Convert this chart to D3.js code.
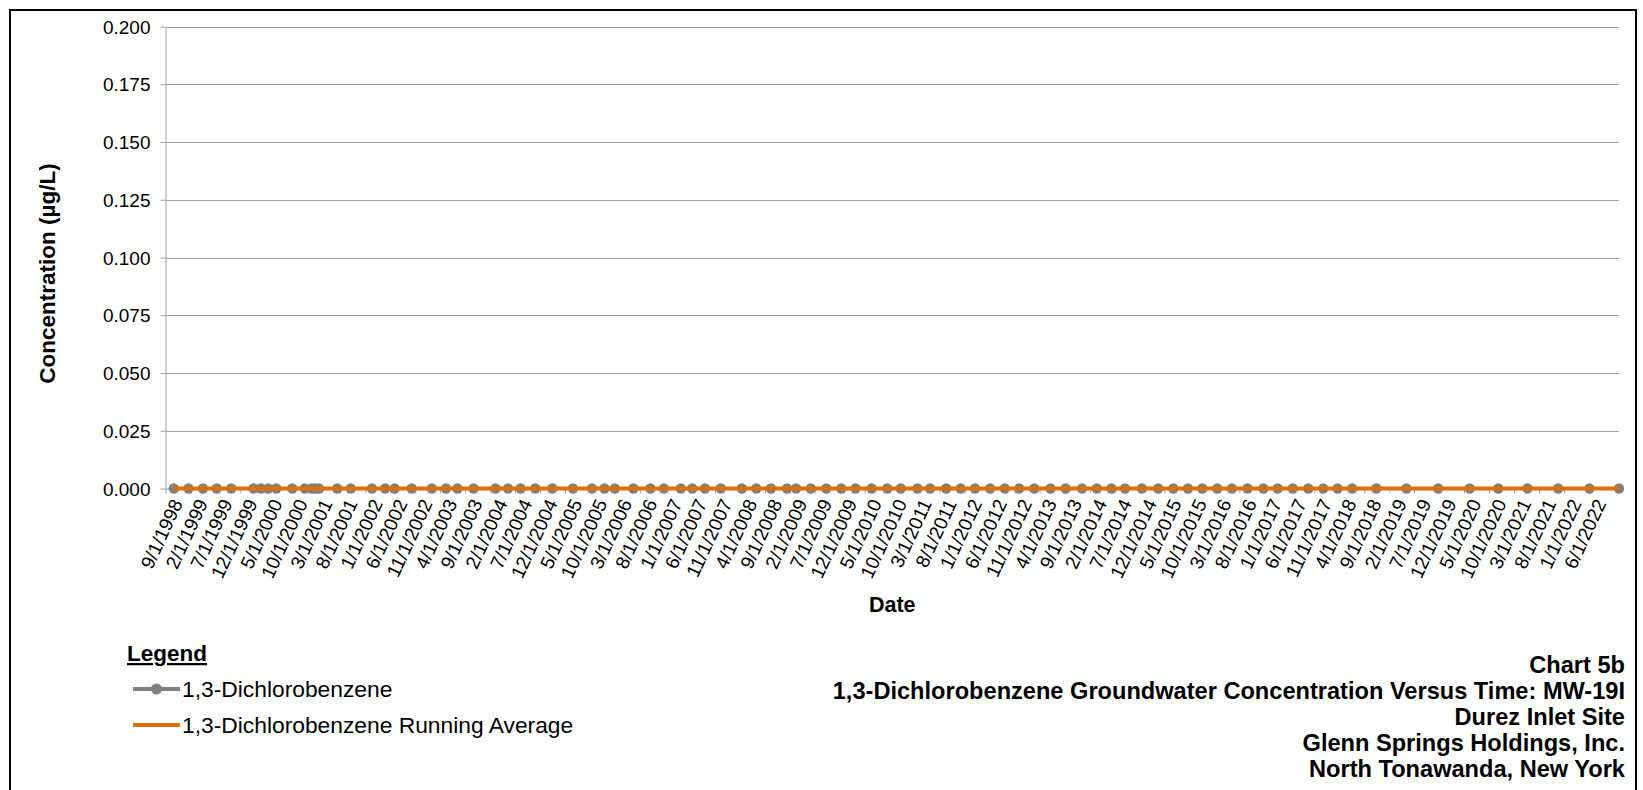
<!DOCTYPE html>
<html>
<head>
<meta charset="utf-8">
<script src="https://cdn.jsdelivr.net/npm/d3@7"></script>
<style>
  html, body { margin: 0; padding: 0; background: #fff; }
  svg { display: block; font-family: "Liberation Sans", Arial, sans-serif; }
</style>
</head>
<body>
<svg id="chart" width="1643" height="790"></svg>
<script>
// ---------------- data ----------------
const sampleDates = [
  "1998-10-22","1999-01-19","1999-04-17","1999-07-10","1999-10-07",
  "2000-02-19","2000-04-04","2000-05-19","2000-07-07","2000-10-13","2000-12-28",
  "2001-02-07","2001-03-01","2001-03-25","2001-07-13","2001-10-04",
  "2002-02-10","2002-05-01","2002-06-28","2002-10-10",
  "2003-02-10","2003-05-07","2003-07-16","2003-10-22",
  "2004-03-04","2004-05-19","2004-08-04","2004-11-01",
  "2005-02-13","2005-06-19","2005-10-13","2005-12-28",
  "2006-03-01","2006-06-22","2006-10-04","2006-12-25",
  "2007-04-07","2007-06-16","2007-09-01","2007-12-07",
  "2008-04-13","2008-07-10","2008-10-07",
  "2009-01-13","2009-03-10","2009-06-07","2009-09-10","2009-12-10",
  "2010-03-07","2010-06-13","2010-09-16","2010-12-07",
  "2011-03-19","2011-06-04","2011-09-10","2011-12-07",
  "2012-03-04","2012-06-04","2012-09-01","2012-11-28",
  "2013-02-28","2013-06-07","2013-09-07","2013-12-16",
  "2014-03-16","2014-06-13","2014-09-04","2014-12-16",
  "2015-03-25","2015-06-25","2015-09-22","2015-12-19",
  "2016-03-19","2016-06-16","2016-09-19","2016-12-25",
  "2017-03-22","2017-06-22","2017-09-25","2017-12-25",
  "2018-03-22","2018-06-19","2018-11-13",
  "2019-05-16","2019-11-25","2020-06-04","2020-11-25",
  "2021-05-22","2021-11-25","2022-06-04","2022-12-01"
];
// 1,3-Dichlorobenzene concentration (µg/L) – all plotted at 0
const concentration = sampleDates.map(() => 0.000);
// Running average
const runningAverage = sampleDates.map(() => 0.000);

const xTickLabels = [
  "9/1/1998","2/1/1999","7/1/1999","12/1/1999","5/1/2000","10/1/2000","3/1/2001","8/1/2001",
  "1/1/2002","6/1/2002","11/1/2002","4/1/2003","9/1/2003","2/1/2004","7/1/2004","12/1/2004",
  "5/1/2005","10/1/2005","3/1/2006","8/1/2006","1/1/2007","6/1/2007","11/1/2007","4/1/2008",
  "9/1/2008","2/1/2009","7/1/2009","12/1/2009","5/1/2010","10/1/2010","3/1/2011","8/1/2011",
  "1/1/2012","6/1/2012","11/1/2012","4/1/2013","9/1/2013","2/1/2014","7/1/2014","12/1/2014",
  "5/1/2015","10/1/2015","3/1/2016","8/1/2016","1/1/2017","6/1/2017","11/1/2017","4/1/2018",
  "9/1/2018","2/1/2019","7/1/2019","12/1/2019","5/1/2020","10/1/2020","3/1/2021","8/1/2021",
  "1/1/2022","6/1/2022"
];
const yTickValues = [0, 0.025, 0.05, 0.075, 0.1, 0.125, 0.15, 0.175, 0.2];
const xDomain = ["1998-09-01", "2022-12-01"];

const titleLines = [
  "Chart 5b",
  "1,3-Dichlorobenzene Groundwater Concentration Versus Time: MW-19I",
  "Durez Inlet Site",
  "Glenn Springs Holdings, Inc.",
  "North Tonawanda, New York"
];
const legendLabels = ["1,3-Dichlorobenzene", "1,3-Dichlorobenzene Running Average"];

// ---------------- drawing ----------------
const parse = d3.timeParse("%Y-%m-%d");
const parseTick = d3.timeParse("%m/%d/%Y");
const svg = d3.select("#chart");

const GREY = "#808080";
const ORANGE = "#E46C0A";
const GRID = "#A0A0A0";
const FONT = "Liberation Sans, Arial, sans-serif";

// outer frame
svg.append("rect").attr("x", 10).attr("y", 10).attr("width", 1626).attr("height", 800)
  .attr("fill", "none").attr("stroke", "#000").attr("stroke-width", 2);

const x = d3.scaleTime().domain(xDomain.map(parse)).range([165.5, 1619]);
const y = d3.scaleLinear().domain([0, 0.2]).range([488.5, 26.5]);

// gridlines
svg.append("g").selectAll("line").data(yTickValues.filter(v => v > 0)).join("line")
  .attr("x1", x.range()[0]).attr("x2", x.range()[1])
  .attr("y1", d => Math.round(y(d)) + 0.5).attr("y2", d => Math.round(y(d)) + 0.5)
  .attr("stroke", GRID).attr("stroke-width", 1);

// y axis
const yAxis = svg.append("g").attr("transform", `translate(${x.range()[0]},0)`)
  .call(d3.axisLeft(y).tickValues(yTickValues).tickSize(5).tickSizeOuter(0).tickFormat(d3.format(".3f")));
yAxis.select(".domain").attr("stroke", GRID);
yAxis.selectAll(".tick line").attr("stroke", GRID);
yAxis.selectAll(".tick text").attr("font-size", 19).attr("fill", "#000")
  .attr("font-family", FONT).attr("x", -15).attr("dy", "0.35em");

// x axis
const tickDates = xTickLabels.map(parseTick);
const xAxis = svg.append("g").attr("transform", `translate(0,${y(0)})`)
  .call(d3.axisBottom(x).tickValues(tickDates).tickSize(5).tickSizeOuter(0)
    .tickFormat((d, i) => xTickLabels[i]));
xAxis.select(".domain").attr("stroke", GRID);
xAxis.selectAll(".tick line").attr("stroke", GRID);
xAxis.selectAll(".tick text")
  .attr("font-size", 19).attr("fill", "#000")
  .attr("font-family", FONT)
  .attr("text-anchor", "end")
  .attr("transform", "translate(5,9) rotate(-65)")
  .attr("x", 0).attr("y", 0).attr("dy", "0.71em");

// series line (grey) with markers
const pts = sampleDates.map((d, i) => ({ date: parse(d), v: concentration[i], avg: runningAverage[i] }));
svg.append("path").datum(pts)
  .attr("d", d3.line().x(d => x(d.date)).y(d => y(d.v)))
  .attr("fill", "none").attr("stroke", GREY).attr("stroke-width", 3);
svg.append("g").selectAll("circle").data(pts).join("circle")
  .attr("cx", d => x(d.date)).attr("cy", d => y(d.v)).attr("r", 5.2).attr("fill", GREY);

// running average (orange)
svg.append("path").datum(pts)
  .attr("d", d3.line().x(d => x(d.date)).y(d => y(d.avg)))
  .attr("fill", "none").attr("stroke", ORANGE).attr("stroke-width", 4);

// axis titles
svg.append("text").attr("x", (x.range()[0] + x.range()[1]) / 2).attr("y", 612)
  .attr("text-anchor", "middle").attr("font-weight", "bold").attr("font-size", 21.5).text("Date");
svg.append("text").attr("transform", `translate(55,${(y(0) + y(0.2)) / 2 + 16}) rotate(-90)`)
  .attr("text-anchor", "middle").attr("font-weight", "bold").attr("font-size", 22.5)
  .text("Concentration (µg/L)");

// legend
const lg = svg.append("g");
lg.append("text").attr("x", 127).attr("y", 661).attr("font-weight", "bold").attr("font-size", 22.5)
  .attr("text-decoration", "underline").text("Legend");
lg.append("line").attr("x1", 133).attr("x2", 180).attr("y1", 689).attr("y2", 689)
  .attr("stroke", GREY).attr("stroke-width", 4);
lg.append("circle").attr("cx", 156.5).attr("cy", 689).attr("r", 5.5).attr("fill", GREY);
lg.append("text").attr("x", 182).attr("y", 697).attr("font-size", 22.8).text(legendLabels[0]);
lg.append("line").attr("x1", 133).attr("x2", 180).attr("y1", 725).attr("y2", 725)
  .attr("stroke", ORANGE).attr("stroke-width", 4);
lg.append("text").attr("x", 182).attr("y", 733).attr("font-size", 22.8).text(legendLabels[1]);

// title block
svg.append("g").selectAll("text").data(titleLines).join("text")
  .attr("x", 1625).attr("y", (d, i) => 673 + i * 26)
  .attr("text-anchor", "end").attr("font-weight", "bold").attr("font-size", 23.6)
  .text(d => d);
</script>
</body>
</html>
